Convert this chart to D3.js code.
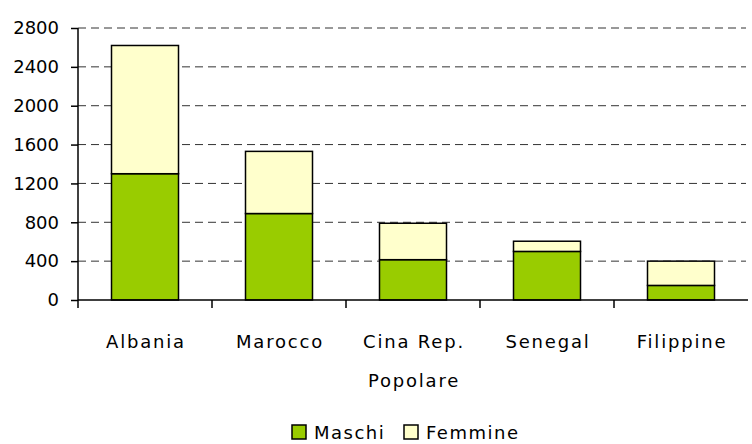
<!DOCTYPE html>
<html>
<head>
<meta charset="utf-8">
<script src="https://cdn.jsdelivr.net/npm/d3@7"></script>
<style>
  body { margin: 0; background: #fff; }
  svg text { font-family: "Century Gothic", "DejaVu Sans", sans-serif; fill: #000; }
</style>
</head>
<body>
<div id="chart"></div>
<script>
const categories = ["Albania", "Marocco", "Cina Rep. Popolare", "Senegal", "Filippine"];
const maschi = [1300, 890, 415, 500, 150];
const femmine = [1320, 640, 375, 105, 250];
const yTicks = [0, 400, 800, 1200, 1600, 2000, 2400, 2800];
const seriesNames = ["Maschi", "Femmine"];
const colors = ["#99cc00", "#ffffcc"];

const W = 752, H = 444;
const margin = { left: 78, top: 28, right: 4, bottom: 144 };
const height = H - margin.top - margin.bottom;

const svg = d3.select("#chart").append("svg")
  .attr("width", W).attr("height", H);
const g = svg.append("g")
  .attr("transform", "translate(" + margin.left + "," + margin.top + ")");

const x = d3.scaleBand().domain(categories).range([0, 670]).paddingInner(0.5).paddingOuter(0.25);
const y = d3.scaleLinear().domain([0, 2800]).range([height, 0]);

// grid lines
g.selectAll("line.grid")
  .data(yTicks.filter(d => d > 0))
  .enter().append("line")
  .attr("class", "grid")
  .attr("x1", 0).attr("x2", 668)
  .attr("y1", d => y(d)).attr("y2", d => y(d))
  .attr("stroke", "#333").attr("stroke-width", 1)
  .attr("stroke-dasharray", "8,5");

// stacked bars
const stack = categories.map((c, i) => ({ cat: c, m: maschi[i], f: femmine[i] }));
const bars = g.selectAll("g.bar").data(stack).enter().append("g");
bars.append("rect")
  .attr("x", d => x(d.cat)).attr("width", x.bandwidth())
  .attr("y", d => y(d.m)).attr("height", d => y(0) - y(d.m))
  .attr("fill", colors[0]).attr("stroke", "#000").attr("stroke-width", 1.5);
bars.append("rect")
  .attr("x", d => x(d.cat)).attr("width", x.bandwidth())
  .attr("y", d => y(d.m + d.f)).attr("height", d => y(d.m) - y(d.m + d.f))
  .attr("fill", colors[1]).attr("stroke", "#000").attr("stroke-width", 1.5);

// y axis
const yAxis = g.append("g")
  .call(d3.axisLeft(y).tickValues(yTicks).tickSize(7).tickPadding(12).tickFormat(d3.format("d")));
yAxis.select(".domain").attr("d", "M0," + (height + 8) + "V0").attr("stroke", "#000").attr("stroke-width", 1.5);
yAxis.selectAll(".tick line").attr("stroke", "#000").attr("stroke-width", 1.5);
yAxis.selectAll("text").style("font-size", "18px").attr("font-family", null);

// x axis
const step = x.step();
g.append("line")
  .attr("x1", 0).attr("x2", 670).attr("y1", height).attr("y2", height)
  .attr("stroke", "#000").attr("stroke-width", 1.5);
g.selectAll("line.xt")
  .data(categories.slice(1))
  .enter().append("line")
  .attr("x1", d => x(d) - step * 0.25).attr("x2", d => x(d) - step * 0.25)
  .attr("y1", height).attr("y2", height + 8)
  .attr("stroke", "#000").attr("stroke-width", 1.5);

// category labels
const labels = g.selectAll("text.cat").data(categories).enter().append("text")
  .attr("text-anchor", "middle")
  .attr("y", height + 48)
  .style("font-size", "18px")
  .style("letter-spacing", "1.8px");
labels.each(function (d) {
  const t = d3.select(this);
  const parts = d === "Cina Rep. Popolare" ? ["Cina Rep.", "Popolare"] : [d];
  parts.forEach((p, i) => {
    t.append("tspan").attr("x", x(d) + x.bandwidth() / 2 + 1).attr("dy", i === 0 ? 0 : 39).text(p);
  });
});

// legend
const legend = svg.append("g").attr("transform", "translate(292,425)");
const legendX = [0, 112];
seriesNames.forEach((s, i) => {
  legend.append("rect")
    .attr("x", legendX[i]).attr("y", 0).attr("width", 14).attr("height", 14)
    .attr("fill", colors[i]).attr("stroke", "#000").attr("stroke-width", 1.5);
  legend.append("text")
    .attr("x", legendX[i] + 22).attr("y", 14)
    .style("font-size", "18px")
    .style("letter-spacing", "1.5px")
    .text(s);
});
</script>
</body>
</html>
